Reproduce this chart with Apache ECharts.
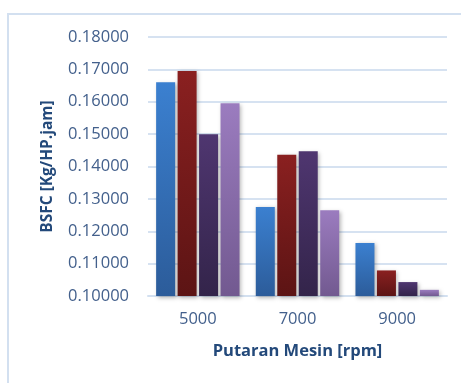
<!DOCTYPE html>
<html>
<head>
<meta charset="utf-8">
<script src="https://cdn.jsdelivr.net/npm/echarts@6/dist/echarts.min.js"></script>
<style>
  html, body { margin: 0; padding: 0; background: #ffffff; }
  #chart { width: 461px; height: 383px; }
</style>
</head>
<body>
<div id="chart"></div>
<script>
// Engine speed categories (rpm)
const categories = ['5000', '7000', '9000'];

// BSFC values for each of the four test configurations
const series1 = [0.1660, 0.1275, 0.1164];
const series2 = [0.1695, 0.1436, 0.1079];
const series3 = [0.1500, 0.1447, 0.1043];
const series4 = [0.1595, 0.1265, 0.1019];

// Y-axis range
const yMin = 0.10;
const yMax = 0.18;
const yStep = 0.01;

const FONT = '"Open Sans", "Noto Sans", sans-serif';

function grad(top, bottom) {
  return new echarts.graphic.LinearGradient(0, 0, 0, 1, [
    { offset: 0, color: top },
    { offset: 1, color: bottom }
  ]);
}

function barSeries(name, data, top, bottom) {
  return {
    name: name,
    type: 'bar',
    data: data,
    barWidth: 19,
    barGap: '13%',
    itemStyle: {
      color: grad(top, bottom),
      shadowBlur: 4,
      shadowColor: 'rgba(0,0,0,0.28)',
      shadowOffsetX: 1.5,
      shadowOffsetY: 1.5
    }
  };
}

const chart = echarts.init(document.getElementById('chart'), null, { renderer: 'canvas' });

chart.setOption({
  animation: false,
  backgroundColor: '#ffffff',
  graphic: [
    {
      type: 'polyline',
      shape: { points: [[8, 383], [8, 14], [461, 14]] },
      style: { stroke: '#d3e0f0', lineWidth: 2, fill: null },
      silent: true
    }
  ],
  grid: { left: 148, right: 14, top: 37, bottom: 87 },
  xAxis: {
    type: 'category',
    data: categories,
    name: 'Putaran Mesin [rpm]',
    nameLocation: 'middle',
    nameGap: 47,
    nameTextStyle: { color: '#23497a', fontFamily: FONT, fontSize: 16.5, fontWeight: 'bold' },
    axisLine: { lineStyle: { color: '#d3e0f0', width: 2 } },
    axisTick: { show: false },
    axisLabel: { color: '#43608c', fontFamily: FONT, fontSize: 16.5, margin: 15 }
  },
  yAxis: {
    type: 'value',
    min: yMin,
    max: yMax,
    interval: yStep,
    name: 'BSFC [Kg/HP.jam]',
    nameLocation: 'middle',
    nameGap: 92,
    nameTextStyle: { color: '#23497a', fontFamily: FONT, fontSize: 15.5, fontWeight: 'bold' },
    axisLine: { show: false },
    axisTick: { show: false },
    splitLine: { lineStyle: { color: '#d6e2f1', width: 2 } },
    axisLabel: {
      color: '#43608c',
      fontFamily: FONT,
      fontSize: 16.5,
      margin: 19,
      formatter: v => v.toFixed(5)
    }
  },
  series: [
    barSeries('Series 1', series1, '#3b80d0', '#2c5c9a'),
    barSeries('Series 2', series2, '#8a2020', '#5c1414'),
    barSeries('Series 3', series3, '#4f3670', '#33244a'),
    barSeries('Series 4', series4, '#9b7cbf', '#725990')
  ]
});
</script>
</body>
</html>
